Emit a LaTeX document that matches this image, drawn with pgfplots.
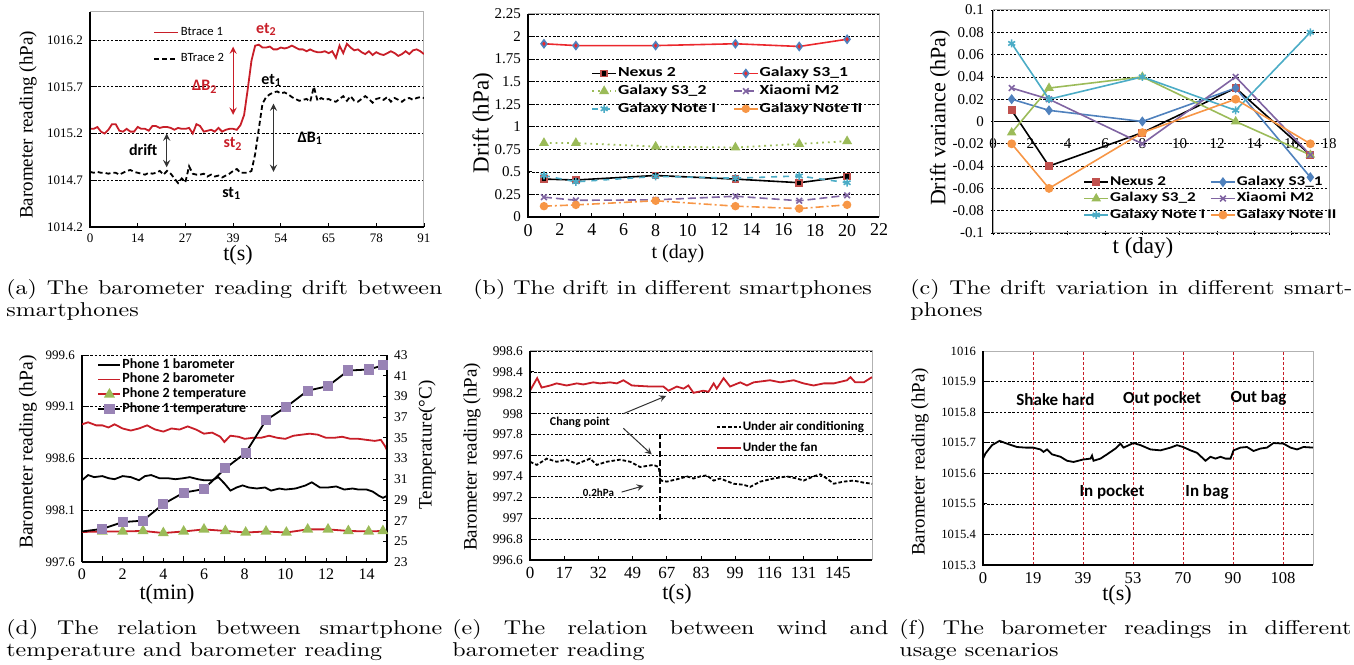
\documentclass[border=0pt]{standalone}
\usepackage{pgfplots}
\pgfplotsset{compat=1.18}
\usepackage{fontspec}
\newfontfamily\tnr{Liberation Serif}
\newfontfamily\calib{Carlito}
\newfontfamily\calibw[FakeStretch=1.28]{Carlito}
\newfontfamily\capfont[FakeStretch=1.2]{lmroman10-regular.otf}

\definecolor{xred}{RGB}{192,80,77}
\definecolor{xblue}{RGB}{79,129,189}
\definecolor{xgreen}{RGB}{155,187,89}
\definecolor{xpurple}{RGB}{128,100,162}
\definecolor{xcyan}{RGB}{75,172,198}
\definecolor{xorange}{RGB}{247,150,70}
\definecolor{tred}{RGB}{200,30,40}
\definecolor{sred}{RGB}{235,40,45}

\newcommand{\fs}[1]{\fontsize{#1}{#1}\selectfont}

\pgfplotsset{
  base/.style={scale only axis, anchor=south west,
    /pgf/number format/assume math mode=true,
    /pgf/number format/1000 sep={},
    axis line style={draw=gray!60, line width=0.5pt},
    grid style={black, line width=0.35pt, dash pattern=on 1.2pt off 0.9pt},
    tick style={black, line width=0.4pt}, major tick length=2pt,
    xtick pos=left, ytick pos=left, tick align=inside,
    legend cell align=left,
    legend image code/.code={\draw[##1,mark repeat=2,mark phase=2] plot coordinates {(0pt,0pt) (6pt,0pt) (12pt,0pt)};},
  },
  Lframe/.style={after end axis/.append code={\draw[black,line width=0.8pt] (rel axis cs:0,1) -- (rel axis cs:0,0) -- (rel axis cs:1,0);}},
}
\tikzset{
  ann/.style={font=\calib\bfseries\fs{8}},
  capnode/.style={inner sep=0pt, anchor=north west, text width=218pt, align=justify, font=\capfont\fontsize{10}{11}\selectfont},
  ylab/.style={rotate=90, inner sep=0pt},
}

\begin{document}
\begin{tikzpicture}
\useasboundingbox (0,0) rectangle (677pt,332pt);

% ===================== (a)
\begin{axis}[base, Lframe, at={(45pt,218.5pt)}, width=167pt, height=107.5pt,
  xmin=0, xmax=91, ymin=1014.2, ymax=1016.5,
  xtick={0,13,...,91}, xticklabels={0,14,27,39,54,65,78,91},
  ytick={1014.2,1014.7,1015.2,1015.7,1016.2}, ymajorgrids,
  x tick label style={font=\tnr\fs{6.5}},
  y tick label style={font=\tnr\fs{6.5}},
  legend style={draw=none, fill=none, at={(0.17,0.96)}, anchor=north west, font=\calib\fs{6.3}, row sep=5.5pt, nodes={inner sep=1pt}},
]
\addplot[tred, line width=0.9pt, sharp plot] coordinates {
(0,1015.25)(1,1015.25)(2,1015.27)(3,1015.22)(4,1015.2)(5,1015.24)(6,1015.3)(7,1015.3)(8,1015.23)(9,1015.22)
(10,1015.25)(11,1015.22)(12,1015.22)(13,1015.27)(14,1015.25)(15,1015.25)(16,1015.23)(17,1015.28)(18,1015.28)(19,1015.26)
(20,1015.27)(21,1015.27)(22,1015.26)(23,1015.24)(24,1015.26)(25,1015.25)(26,1015.25)(27,1015.26)(28,1015.2)(29,1015.3)
(30,1015.28)(31,1015.22)(32,1015.23)(33,1015.24)(34,1015.22)(35,1015.26)(36,1015.22)(37,1015.24)(38,1015.25)(39,1015.25)
(40,1015.24)(41,1015.29)(42,1015.4)(43,1015.68)(44,1015.98)(45,1016.14)(46,1016.15)(47,1016.12)(48,1016.12)(49,1016.13)
(50,1016.1)(51,1016.1)(52,1016.12)(53,1016.11)(54,1016.12)(55,1016.14)(56,1016.12)(57,1016.1)(58,1016.1)(59,1016.08)
(60,1016.1)(61,1016.08)(62,1016.07)(63,1016.07)(64,1016.08)(65,1016.06)(66,1016.08)(67,1016.01)(68,1016.14)(69,1016.06)
(70,1016.16)(71,1016.12)(72,1016.09)(73,1016.1)(74,1016.07)(75,1016.05)(76,1016.08)(77,1016.04)(78,1016.07)(79,1016.05)
(80,1016.04)(81,1016.06)(82,1016.08)(83,1016.06)(84,1016.03)(85,1016.05)(86,1016.08)(87,1016.05)(88,1016.09)(89,1016.1)
(90,1016.08)(91,1016.05)};
\addlegendentry{Btrace 1}
\addplot[black, line width=0.9pt, dash pattern=on 2.5pt off 1.5pt] coordinates {
(0,1014.79)(1,1014.78)(2,1014.79)(3,1014.78)(4,1014.78)(5,1014.77)(6,1014.78)(7,1014.78)(8,1014.76)(9,1014.78)
(10,1014.8)(11,1014.81)(12,1014.79)(13,1014.78)(14,1014.77)(15,1014.76)(16,1014.78)(17,1014.77)(18,1014.78)(19,1014.8)
(20,1014.76)(21,1014.8)(22,1014.77)(23,1014.72)(24,1014.67)(25,1014.72)(26,1014.68)(27,1014.85)(28,1014.77)(29,1014.76)
(30,1014.76)(31,1014.77)(32,1014.74)(33,1014.76)(34,1014.74)(35,1014.75)(36,1014.73)(37,1014.75)(38,1014.77)(39,1014.8)
(40,1014.82)(41,1014.78)(42,1014.78)(43,1014.78)(44,1014.8)(45,1014.98)(46,1015.25)(47,1015.52)(48,1015.59)(49,1015.62)
(50,1015.64)(51,1015.65)(52,1015.63)(53,1015.64)(54,1015.62)(55,1015.59)(56,1015.57)(57,1015.55)(58,1015.56)(59,1015.57)
(60,1015.54)(61,1015.7)(62,1015.55)(63,1015.58)(64,1015.56)(65,1015.57)(66,1015.55)(67,1015.54)(68,1015.57)(69,1015.6)
(70,1015.55)(71,1015.6)(72,1015.55)(73,1015.54)(74,1015.57)(75,1015.6)(76,1015.57)(77,1015.53)(78,1015.57)(79,1015.58)
(80,1015.56)(81,1015.59)(82,1015.54)(83,1015.58)(84,1015.56)(85,1015.54)(86,1015.57)(87,1015.58)(88,1015.56)(89,1015.58)
(90,1015.59)(91,1015.58)};
\addlegendentry{BTrace 2}
\draw[<->, >=stealth, tred, line width=0.6pt] (axis cs:39,1016.13) -- (axis cs:39,1015.4);
\draw[<->, >=stealth, black!80, line width=0.6pt] (axis cs:50,1015.52) -- (axis cs:50,1014.79);
\draw[<->, >=stealth, black!80, line width=0.6pt] (axis cs:20.9,1015.2) -- (axis cs:20.9,1014.84);
\node[ann, text=tred] at (axis cs:48.1,1016.31) {et\textsubscript{2}};
\node[ann, text=tred] at (axis cs:31.3,1015.7) {ΔB\textsubscript{2}};
\node[ann, text=tred] at (axis cs:39,1015.09) {st\textsubscript{2}};
\node[ann] at (axis cs:49.5,1015.77) {et\textsubscript{1}};
\node[ann] at (axis cs:60,1015.15) {ΔB\textsubscript{1}};
\node[ann] at (axis cs:14.5,1015.02) {drift};
\node[ann] at (axis cs:38.6,1014.56) {st\textsubscript{1}};
\end{axis}
\node[ylab, font=\tnr\fs{9.5}] at (14pt,269.5pt) {Barometer reading (hPa)};
\node[inner sep=0pt, font=\tnr\fs{11}] at (119pt,204.5pt) {t(s)};

% ===================== (b)
\begin{axis}[base, Lframe, at={(264pt,223.5pt)}, width=175.5pt, height=101.5pt,
  xmin=0, xmax=22, ymin=0, ymax=2.25,
  xtick={0,2,...,22}, ytick={0,0.25,0.5,0.75,1,1.25,1.5,1.75,2,2.25}, ymajorgrids,
  x tick label style={font=\tnr\fs{9}},
  y tick label style={font=\tnr\fs{7.5}},
  legend columns=2,
  legend style={draw=none, fill=none, at={(0.162,0.765)}, anchor=north west, font=\calibw\bfseries\fs{6.9}, row sep=1.5pt, nodes={inner sep=0.5pt}, /tikz/every even column/.append style={column sep=8pt}},
]
\addplot[black, line width=0.8pt, mark=square*, mark size=1.5pt, mark options={fill=black, draw=xred}] coordinates {(1,0.42)(3,0.41)(8,0.46)(13,0.42)(17,0.38)(20,0.45)};
\addlegendentry{Nexus 2}
\addplot[sred, line width=0.8pt, mark=diamond*, mark size=1.9pt, mark options={fill=sred, draw=xblue}] coordinates {(1,1.92)(3,1.9)(8,1.9)(13,1.92)(17,1.89)(20,1.97)};
\addlegendentry{Galaxy S3\_1}
\addplot[xgreen, line width=0.9pt, dotted, mark=triangle*, mark size=2pt, mark options={solid, fill=xgreen}] coordinates {(1,0.82)(3,0.82)(8,0.78)(13,0.77)(17,0.81)(20,0.84)};
\addlegendentry{Galaxy S3\_2}
\addplot[xpurple, line width=0.8pt, dash pattern=on 4pt off 2pt, mark=x, mark size=2pt, mark options={solid}] coordinates {(1,0.22)(3,0.185)(8,0.19)(13,0.23)(17,0.18)(20,0.24)};
\addlegendentry{Xiaomi M2}
\addplot[xcyan, line width=0.8pt, dashed, mark=asterisk, mark size=2pt, mark options={solid}] coordinates {(1,0.46)(3,0.39)(8,0.45)(13,0.43)(17,0.455)(20,0.38)};
\addlegendentry{Galaxy Note I}
\addplot[xorange, line width=0.8pt, dash pattern=on 4pt off 1.5pt on 1pt off 1.5pt, mark=*, mark size=1.7pt, mark options={solid, fill=xorange}] coordinates {(1,0.12)(3,0.134)(8,0.18)(13,0.12)(17,0.093)(20,0.135)};
\addlegendentry{Galaxy Note II}
\end{axis}
\node[ylab, font=\tnr\fs{11.5}] at (241.5pt,270.5pt) {Drift (hPa)};
\node[inner sep=0pt, font=\tnr\fs{10}] at (339pt,205pt) {t (day)};

% ===================== (c)
\begin{axis}[base, at={(496.5pt,215.5pt)}, width=168pt, height=111.5pt,
  xmin=0, xmax=18, ymin=-0.1, ymax=0.1,
  axis x line=middle, axis y line=left, hide obscured x ticks=false,
  x axis line style={black, line width=0.8pt, -}, y axis line style={black, line width=0.8pt, -},
  xtick={0,2,...,18}, xticklabels={0,2,4,6,8,10,12,14,16,18},
  ytick={-0.1,-0.08,-0.06,-0.04,-0.02,0,0.02,0.04,0.06,0.08,0.1},
  yticklabels={-0.1,-0.08,-0.06,-0.04,-0.02,0,0.02,0.04,0.06,0.08,0.1}, ymajorgrids,
  x tick label style={font=\tnr\fs{7.5}, yshift=-4pt},
  y tick label style={font=\tnr\fs{7.5}},
  after end axis/.append code={\draw[gray!60, line width=0.5pt] (rel axis cs:0,0) rectangle (rel axis cs:1,1);},
  legend columns=2,
  legend style={draw=none, fill=none, at={(0.25,0.28)}, anchor=north west, font=\calibw\bfseries\fs{6.7}, row sep=1pt, nodes={inner sep=0.5pt}, /tikz/every even column/.append style={column sep=2pt}},
]
\addplot[black, line width=0.8pt, mark=square*, mark size=1.6pt, mark options={fill=xred, draw=xred}] coordinates {(1,0.01)(3,-0.04)(8,-0.01)(13,0.03)(17,-0.03)};
\addlegendentry{Nexus 2}
\addplot[xblue, line width=0.8pt, mark=diamond*, mark size=1.9pt, mark options={fill=xblue}] coordinates {(1,0.02)(3,0.01)(8,0)(13,0.03)(17,-0.05)};
\addlegendentry{Galaxy S3\_1}
\addplot[xgreen, line width=0.8pt, mark=triangle*, mark size=2pt, mark options={fill=xgreen}] coordinates {(1,-0.01)(3,0.03)(8,0.04)(13,0)(17,-0.03)};
\addlegendentry{Galaxy S3\_2}
\addplot[xpurple, line width=0.8pt, mark=x, mark size=2pt] coordinates {(1,0.03)(3,0.02)(8,-0.02)(13,0.04)(17,-0.03)};
\addlegendentry{Xiaomi M2}
\addplot[xcyan, line width=0.8pt, mark=asterisk, mark size=2pt] coordinates {(1,0.07)(3,0.02)(8,0.04)(13,0.01)(17,0.08)};
\addlegendentry{Galaxy Note I}
\addplot[xorange, line width=0.8pt, mark=*, mark size=1.8pt, mark options={fill=xorange}] coordinates {(1,-0.02)(3,-0.06)(8,-0.01)(13,0.02)(17,-0.02)};
\addlegendentry{Galaxy Note II}
\end{axis}
\node[ylab, font=\tnr\fs{11}] at (470pt,273pt) {Drift variance (hPa)};
\node[inner sep=0pt, font=\tnr\fs{11.5}] at (571.5pt,208pt) {t (day)};

% ===================== (d)
\begin{axis}[base, at={(41pt,51pt)}, width=152.5pt, height=103.5pt,
  xmin=0, xmax=15, ymin=997.6, ymax=999.6,
  axis x line*=bottom, axis y line*=left,
  axis line style={black, line width=0.8pt, -},
  xtick={0,2,...,14}, minor xtick={1,3,...,15},
  ytick={997.6,998.1,998.6,999.1,999.6}, ymajorgrids,
  x tick label style={font=\tnr\fs{8}},
  y tick label style={font=\tnr\fs{6.5}},
]
\addplot[tred, line width=0.9pt] coordinates {
(0,998.93)(0.3,998.95)(0.7,998.92)(1,998.92)(1.3,998.9)(1.6,998.93)(2,998.89)(2.4,998.87)(2.8,998.89)(3.2,998.92)
(3.6,998.88)(4,998.86)(4.4,998.89)(4.8,998.88)(5.2,998.91)(5.6,998.88)(6,998.84)(6.4,998.85)(6.8,998.81)(7,998.76)
(7.3,998.82)(7.7,998.81)(8,998.79)(8.4,998.8)(8.8,998.8)(9.2,998.82)(9.6,998.8)(10,998.79)(10.4,998.82)(10.8,998.83)
(11.2,998.84)(11.6,998.83)(12,998.8)(12.4,998.8)(12.8,998.81)(13.2,998.79)(13.6,998.79)(14,998.78)(14.4,998.77)(14.7,998.78)
(14.9,998.72)(15,998.68)};
\addplot[black, line width=0.9pt] coordinates {
(0,998.39)(0.3,998.44)(0.6,998.42)(1,998.43)(1.3,998.41)(1.6,998.4)(2,998.43)(2.4,998.42)(2.8,998.39)(3.1,998.43)
(3.4,998.44)(3.8,998.41)(4.2,998.41)(4.6,998.4)(5,998.41)(5.3,998.42)(5.7,998.4)(6,998.39)(6.4,998.39)(6.7,998.42)
(7,998.36)(7.3,998.29)(7.6,998.32)(7.9,998.34)(8.2,998.32)(8.6,998.31)(9,998.32)(9.3,998.29)(9.7,998.31)(10,998.3)
(10.5,998.31)(11,998.34)(11.3,998.37)(11.7,998.32)(12.1,998.32)(12.5,998.33)(12.9,998.3)(13.3,998.31)(13.6,998.3)(14,998.3)
(14.3,998.28)(14.6,998.24)(14.8,998.22)(15,998.24)};
\end{axis}
\begin{axis}[base, at={(41pt,51pt)}, width=152.5pt, height=103.5pt,
  xmin=0, xmax=15, ymin=23, ymax=43,
  axis x line=none, axis y line*=right,
  axis line style={black, line width=0.8pt, -},
  ytick={23,25,...,43}, ytick pos=right,
  y tick label style={font=\tnr\fs{6.7}},
  legend style={draw=none, fill=none, at={(0.03,1.01)}, anchor=north west, font=\calib\bfseries\fs{7}, row sep=0pt, nodes={inner sep=0.5pt}},
  legend image code/.code={\draw[#1,mark repeat=2,mark phase=2] plot coordinates {(0pt,0pt) (5.5pt,0pt) (11pt,0pt)};},
]
\addlegendimage{black, line width=0.9pt}
\addlegendentry{Phone 1 barometer}
\addlegendimage{tred, line width=0.9pt}
\addlegendentry{Phone 2 barometer}
\addplot[tred, line width=0.9pt, mark=triangle*, mark size=2.3pt, mark repeat=1, mark phase=2, mark options={fill=xgreen, draw=xgreen}] coordinates {
(0,25.9)(1,25.95)(2,25.95)(3,26.0)(4,25.8)(5,25.95)(6,26.15)(7.05,26.0)(8.05,25.85)(9.05,25.95)(10.05,25.85)(11.1,26.15)(12.1,26.15)(13.1,26.0)(14.1,25.95)(14.8,26.0)};
\addlegendentry{Phone 2 temperature}
\addplot[black, line width=0.9pt, mark=square*, mark size=2.1pt, mark repeat=1, mark phase=2, mark options={fill=xpurple!80, draw=xpurple!80}] coordinates {
(0,25.95)(1,26.2)(2,26.85)(3,27.0)(4,28.6)(5,29.7)(6,30.05)(7.05,32.05)(8.05,33.55)(9.05,36.7)(10.05,38.0)(11.1,39.55)(12.1,40.0)(13.1,41.5)(14.1,41.6)(14.8,42.0)};
\addlegendentry{Phone 1 temperature}
\end{axis}
\node[ylab, font=\tnr\fs{9.8}] at (14pt,106pt) {Barometer reading (hPa)};
\node[ylab, font=\tnr\fs{9.5}] at (213.5pt,109.5pt) {Temperature(°C)};
\node[inner sep=0pt, font=\tnr\fs{11}] at (83.5pt,35pt) {t(min)};

% ===================== (e)
\begin{axis}[base, Lframe, at={(265pt,52pt)}, width=171pt, height=104.5pt,
  xmin=0, xmax=10, ymin=996.6, ymax=998.6,
  xtick={0,...,9}, xticklabels={0,17,32,49,67,83,99,116,131,145},
  ytick={996.6,996.8,997,997.2,997.4,997.6,997.8,998,998.2,998.4,998.6}, ymajorgrids,
  x tick label style={font=\tnr\fs{8.5}},
  y tick label style={font=\tnr\fs{6.7}},
  legend style={draw=none, fill=none, at={(0.525,0.69)}, anchor=north west, font=\calib\bfseries\fs{6.5}, row sep=3.5pt, nodes={inner sep=0.5pt}},
]
\addplot[black, line width=0.9pt, dash pattern=on 1.8pt off 1pt] coordinates {
(0,997.54)(0.2,997.51)(0.49,997.57)(0.78,997.54)(1.07,997.56)(1.37,997.52)(1.76,997.57)(1.95,997.51)(2.24,997.54)(2.63,997.56)
(2.93,997.54)(3.22,997.49)(3.61,997.51)(3.76,997.49)(3.83,997.36)(4,997.35)(4.39,997.38)(4.59,997.4)(4.78,997.38)(4.98,997.4)
(5.17,997.41)(5.37,997.36)(5.56,997.38)(5.95,997.33)(6.24,997.32)(6.44,997.3)(6.73,997.35)(7.12,997.38)(7.51,997.4)(7.8,997.38)
(8,997.36)(8.29,997.4)(8.49,997.42)(8.68,997.38)(8.88,997.33)(9.17,997.35)(9.46,997.36)(9.76,997.34)(10,997.33)};
\addlegendentry{Under air conditioning}
\addplot[tred, line width=0.9pt] coordinates {
(0,998.22)(0.21,998.34)(0.34,998.25)(0.59,998.27)(0.78,998.29)(1.07,998.27)(1.37,998.29)(1.56,998.28)(1.85,998.3)(2.05,998.29)
(2.34,998.3)(2.54,998.29)(2.73,998.32)(2.98,998.27)(3.51,998.26)(3.9,998.26)(4.05,998.22)(4.29,998.26)(4.49,998.24)(4.63,998.27)
(4.78,998.2)(5.07,998.22)(5.22,998.21)(5.37,998.29)(5.46,998.24)(5.66,998.34)(5.85,998.26)(6.15,998.3)(6.34,998.27)(6.54,998.3)
(7.02,998.32)(7.32,998.3)(7.71,998.32)(8,998.29)(8.29,998.27)(8.59,998.29)(8.88,998.29)(9.27,998.32)(9.37,998.35)(9.51,998.3)
(9.76,998.3)(10,998.35)};
\addlegendentry{Under the fan}
\addplot[black, line width=0.8pt, dash pattern=on 3pt off 1.5pt, forget plot] coordinates {(3.8,996.98)(3.8,997.81)};
\draw[->, >=stealth, black!80, line width=0.5pt] (axis cs:2.73,998.0) -- (axis cs:3.98,998.17);
\draw[->, >=stealth, black!80, line width=0.5pt] (axis cs:2.73,997.86) -- (axis cs:3.56,997.61);
\draw[->, >=stealth, black!80, line width=0.5pt] (axis cs:2.68,997.25) -- (axis cs:3.32,997.31);
\node[font=\calib\bfseries\fs{6}] at (axis cs:1.46,997.92) {Chang point};
\node[font=\calib\bfseries\fs{5.5}] at (axis cs:2.0,997.24) {0.2hPa};
\end{axis}
\node[ylab, font=\tnr\fs{9.5}] at (236pt,103.5pt) {Barometer reading (hPa)};
\node[inner sep=0pt, font=\tnr\fs{11}] at (338.5pt,35pt) {t(s)};

% ===================== (f)
\begin{axis}[base, Lframe, at={(491.5pt,49.5pt)}, width=165pt, height=107pt,
  xmin=0, xmax=6.6, ymin=1015.3, ymax=1016,
  xtick={0,...,6}, xticklabels={0,19,39,53,70,90,108}, xtick style={draw=none},
  ytick={1015.3,1015.4,1015.5,1015.6,1015.7,1015.8,1015.9,1016}, ymajorgrids,
  x tick label style={font=\tnr\fs{8.3}},
  y tick label style={font=\tnr\fs{6.3}},
]
\pgfplotsinvokeforeach{1,...,6}{
\addplot[tred, line width=0.5pt, dash pattern=on 1.5pt off 1pt] coordinates {(#1,1015.3)(#1,1016)};
}
\addplot[black, line width=0.9pt] coordinates {
(0,1015.648)(0.05,1015.665)(0.18,1015.692)(0.33,1015.706)(0.48,1015.697)(0.68,1015.686)(0.85,1015.684)(1,1015.684)(1.15,1015.678)(1.21,1015.67)
(1.28,1015.678)(1.38,1015.662)(1.55,1015.654)(1.68,1015.641)(1.81,1015.637)(2,1015.645)(2.15,1015.648)(2.18,1015.658)(2.21,1015.641)(2.35,1015.648)
(2.48,1015.662)(2.65,1015.681)(2.75,1015.697)(2.81,1015.684)(3.01,1015.699)(3.15,1015.692)(3.35,1015.678)(3.55,1015.675)(3.75,1015.684)(3.88,1015.692)
(4,1015.686)(4.15,1015.675)(4.28,1015.667)(4.45,1015.641)(4.55,1015.654)(4.65,1015.648)(4.75,1015.654)(4.85,1015.648)(4.95,1015.648)(5.01,1015.675)
(5.15,1015.684)(5.28,1015.686)(5.41,1015.673)(5.55,1015.681)(5.68,1015.684)(5.81,1015.699)(6.01,1015.697)(6.15,1015.684)(6.28,1015.678)(6.41,1015.686)
(6.6,1015.684)};
\node[ann, font=\calib\bfseries\fs{8.5}] at (axis cs:1.45,1015.84) {Shake hard};
\node[ann, font=\calib\bfseries\fs{8.5}] at (axis cs:3.58,1015.845) {Out pocket};
\node[ann, font=\calib\bfseries\fs{8.5}] at (axis cs:5.51,1015.845) {Out bag};
\node[ann, font=\calib\bfseries\fs{8.5}] at (axis cs:2.58,1015.54) {In pocket};
\node[ann, font=\calib\bfseries\fs{8.5}] at (axis cs:4.48,1015.54) {In bag};
\end{axis}
\node[ylab, font=\tnr\fs{9.5}] at (460pt,101pt) {Barometer reading (hPa)};
\node[inner sep=0pt, font=\tnr\fs{11}] at (558.5pt,34.5pt) {t(s)};

% ===================== captions
\node[capnode] at (3pt,192.5pt) {(a) The barometer reading drift between\linebreak smartphones};
\node[capnode] at (236.5pt,192.5pt) {(b) The drift in different smartphones};
\node[capnode, text width=221pt] at (455pt,192.5pt) {(c) The drift variation in different smart-\linebreak phones};
\node[capnode] at (3pt,22.5pt) {(d) The relation between smartphone\linebreak temperature and barometer reading};
\node[capnode] at (226pt,22.5pt) {(e) The relation between wind and\linebreak barometer reading};
\node[capnode, text width=226pt] at (449.5pt,22.5pt) {(f) The barometer readings in different\linebreak usage scenarios};
\end{tikzpicture}
\end{document}
